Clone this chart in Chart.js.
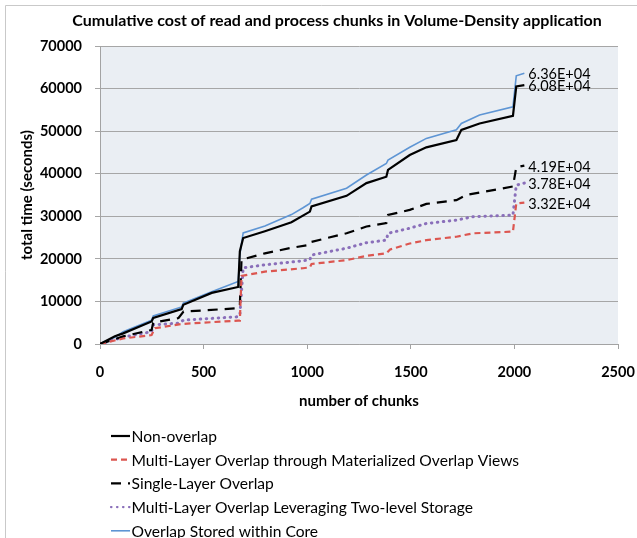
<!DOCTYPE html>
<html>
<head>
<meta charset="utf-8">
<script src="https://cdn.jsdelivr.net/npm/chart.js@4.4.0/dist/chart.umd.min.js"></script>
<style>
  html, body { margin: 0; padding: 0; background: #fff; }
  #wrap { width: 637px; height: 538px; }
</style>
</head>
<body>
<div id="wrap"><canvas id="chart" width="637" height="538"></canvas></div>
<script>
// Datos (chunks vs tiempo acumulado en segundos)
const chartTitle = 'Cumulative cost of read and process chunks in Volume-Density application';
const xTitle = 'number of chunks';
const yTitle = 'total time (seconds)';

const seriesNames = [
    'Non-overlap',
    'Multi-Layer Overlap through Materialized Overlap Views',
    'Single-Layer Overlap',
    'Multi-Layer Overlap Leveraging Two-level Storage',
    'Overlap Stored within Core'
];

const nonOverlapX = [0, 72, 112, 249, 257, 394, 402, 539, 667, 675, 691, 796, 924, 1013, 1021, 1190, 1286, 1382, 1390, 1495, 1575, 1720, 1744, 1832, 1993, 2009, 2048];
const nonOverlapY = [0, 1800, 2500, 5300, 6100, 8200, 9200, 12000, 13400, 21800, 24900, 26500, 28600, 31100, 32300, 34800, 37800, 39300, 40900, 44400, 46200, 47900, 50300, 51800, 53600, 60500, 60800];

const materializedX = [0, 112, 249, 265, 394, 667, 675, 683, 796, 980, 1013, 1021, 1190, 1286, 1382, 1400, 1495, 1575, 1720, 1800, 1993, 2009, 2048];
const materializedY = [0, 1300, 2100, 3700, 4700, 5500, 5500, 16000, 17000, 17800, 18000, 18800, 19700, 20700, 21300, 22200, 23600, 24400, 25200, 26000, 26400, 33000, 33200];

const singleLayerX = [0, 112, 249, 257, 379, 403, 667, 675, 683, 796, 924, 1013, 1021, 1190, 1286, 1382, 1390, 1495, 1575, 1720, 1768, 1993, 2009, 2048];
const singleLayerY = [0, 1800, 3300, 5000, 6100, 7600, 8400, 9200, 19800, 21300, 22600, 23300, 24000, 26000, 27600, 28400, 30300, 31500, 32900, 33800, 35000, 37000, 41500, 41900];

const twoLevelX = [0, 112, 249, 257, 379, 403, 667, 675, 691, 796, 970, 1013, 1021, 1190, 1286, 1382, 1390, 1495, 1575, 1720, 1800, 1993, 2009, 2048];
const twoLevelY = [0, 1600, 2900, 4500, 4900, 5600, 6400, 6800, 17900, 18600, 19500, 19800, 20900, 22500, 23800, 24400, 26000, 27200, 28300, 29100, 29900, 30300, 37300, 37800];

const inCoreX = [0, 72, 112, 249, 257, 394, 402, 539, 667, 675, 691, 796, 924, 980, 1013, 1021, 1190, 1286, 1382, 1390, 1495, 1575, 1720, 1744, 1832, 1993, 2009, 2048];
const inCoreY = [0, 1600, 2900, 5600, 6600, 8700, 9600, 12300, 14700, 21000, 26100, 27700, 30400, 32000, 33000, 34000, 36600, 39700, 42400, 43200, 46200, 48300, 50300, 51800, 53800, 55700, 63000, 63600];

const xTicks = [0, 500, 1000, 1500, 2000, 2500];
const yTicks = [0, 10000, 20000, 30000, 40000, 50000, 60000, 70000];

const FONT = 'Lato, "Open Sans", sans-serif';

function toPoints(xs, ys) {
    return xs.map((x, i) => ({ x: x, y: ys[i] }));
}

// Formato estilo Excel: 6.36E+04
function sciLabel(v) {
    const parts = v.toExponential(2).split('e');
    const exp = parseInt(parts[1], 10);
    return parts[0] + 'E' + (exp < 0 ? '-' : '+') + String(Math.abs(exp)).padStart(2, '0');
}

const datasets = [
    { label: seriesNames[0], data: toPoints(nonOverlapX, nonOverlapY), borderColor: '#000000', borderWidth: 2.2, borderDash: [] },
    { label: seriesNames[1], data: toPoints(materializedX, materializedY), borderColor: '#dc5650', borderWidth: 2.2, borderDash: [6, 4] },
    { label: seriesNames[2], data: toPoints(singleLayerX, singleLayerY), borderColor: '#000000', borderWidth: 2.2, borderDash: [10, 7] },
    { label: seriesNames[3], data: toPoints(twoLevelX, twoLevelY), borderColor: '#8a6fba', borderWidth: 3, borderDash: [0.5, 5.5], borderCapStyle: 'round' },
    { label: seriesNames[4], data: toPoints(inCoreX, inCoreY), borderColor: '#5e95d4', borderWidth: 1.6, borderDash: [] }
].map(d => Object.assign({ showLine: true, pointRadius: 0, tension: 0, fill: false }, d));

// Fondo, marco y fondo del área de trazado
const backgroundPlugin = {
    id: 'background',
    beforeDraw(chart) {
        const c = chart.ctx;
        const a = chart.chartArea;
        c.save();
        c.fillStyle = '#ffffff';
        c.fillRect(0, 0, chart.width, chart.height);
        c.strokeStyle = '#c9c9c9';
        c.lineWidth = 1;
        c.beginPath();
        c.moveTo(5.5, chart.height);
        c.lineTo(5.5, 5.5);
        c.lineTo(chart.width, 5.5);
        c.stroke();
        c.fillStyle = '#eaeef3';
        c.fillRect(a.left, a.top, a.right - a.left, a.bottom - a.top);
        c.restore();
    }
};

// Título, etiquetas finales y leyenda vertical
const overlayPlugin = {
    id: 'overlay',
    afterDraw(chart) {
        const c = chart.ctx;
        c.save();
        c.fillStyle = '#000';
        c.font = 'bold 16px ' + FONT;
        c.textAlign = 'center';
        c.textBaseline = 'middle';
        c.fillText(chartTitle, 337, 21);

        // etiqueta del último punto de cada serie
        c.font = '14.5px ' + FONT;
        c.textAlign = 'left';
        chart.data.datasets.forEach((ds, i) => {
            const meta = chart.getDatasetMeta(i);
            const last = meta.data[meta.data.length - 1];
            const v = ds.data[ds.data.length - 1].y;
            c.fillText(sciLabel(v), last.x + 4, last.y + 1.5);
        });

        // leyenda
        c.font = '15.6px ' + FONT;
        chart.data.datasets.forEach((ds, i) => {
            const y = 436 + i * 23.7;
            c.strokeStyle = ds.borderColor;
            c.lineWidth = Math.min(ds.borderWidth, 2.2);
            c.lineCap = ds.borderCapStyle || 'butt';
            c.setLineDash(ds.borderDash);
            c.beginPath();
            c.moveTo(111, y);
            c.lineTo(130, y);
            c.stroke();
            c.setLineDash([]);
            c.fillText(ds.label, 131.5, y + 1);
        });
        c.restore();
    }
};

const chart = new Chart(document.getElementById('chart').getContext('2d'), {
    type: 'scatter',
    data: { datasets: datasets },
    plugins: [backgroundPlugin, overlayPlugin],
    options: {
        responsive: false,
        animation: false,
        layout: { padding: { top: 46, right: 19, bottom: 114, left: 0 } },
        plugins: {
            legend: { display: false },
            title: { display: false },
            tooltip: { enabled: false }
        },
        scales: {
            x: {
                type: 'linear',
                min: xTicks[0],
                max: xTicks[xTicks.length - 1],
                afterFit(scale) {
                    scale.height = 80;
                    scale.paddingLeft = 0;
                    scale.paddingRight = 0;
                },
                afterBuildTicks(scale) { scale.ticks = xTicks.map(v => ({ value: v })); },
                ticks: { color: '#000', font: { family: FONT, size: 14.5, weight: 'bold' }, padding: 15, maxRotation: 0, callback: v => String(v) },
                grid: { drawOnChartArea: false, tickLength: 5, color: '#a3a3a3' },
                border: { color: '#a3a3a3' },
                title: { display: true, text: xTitle, color: '#000', font: { family: FONT, size: 15, weight: 'bold' }, padding: { top: 0, bottom: 14 } }
            },
            y: {
                min: yTicks[0],
                max: yTicks[yTicks.length - 1],
                afterFit(scale) {
                    scale.width = 100;
                    scale.paddingTop = 0;
                    scale.paddingBottom = 0;
                },
                afterBuildTicks(scale) { scale.ticks = yTicks.map(v => ({ value: v })); },
                ticks: { color: '#000', font: { family: FONT, size: 14.5, weight: 'bold' }, padding: 13, callback: v => String(v) },
                grid: { tickLength: 5, color: '#a6a6a6', lineWidth: 1 },
                border: { color: '#a3a3a3' },
                title: { display: true, text: yTitle, color: '#000', font: { family: FONT, size: 15, weight: 'bold' }, padding: { top: 18, bottom: 0 } }
            }
        }
    }
});
</script>
</body>
</html>
